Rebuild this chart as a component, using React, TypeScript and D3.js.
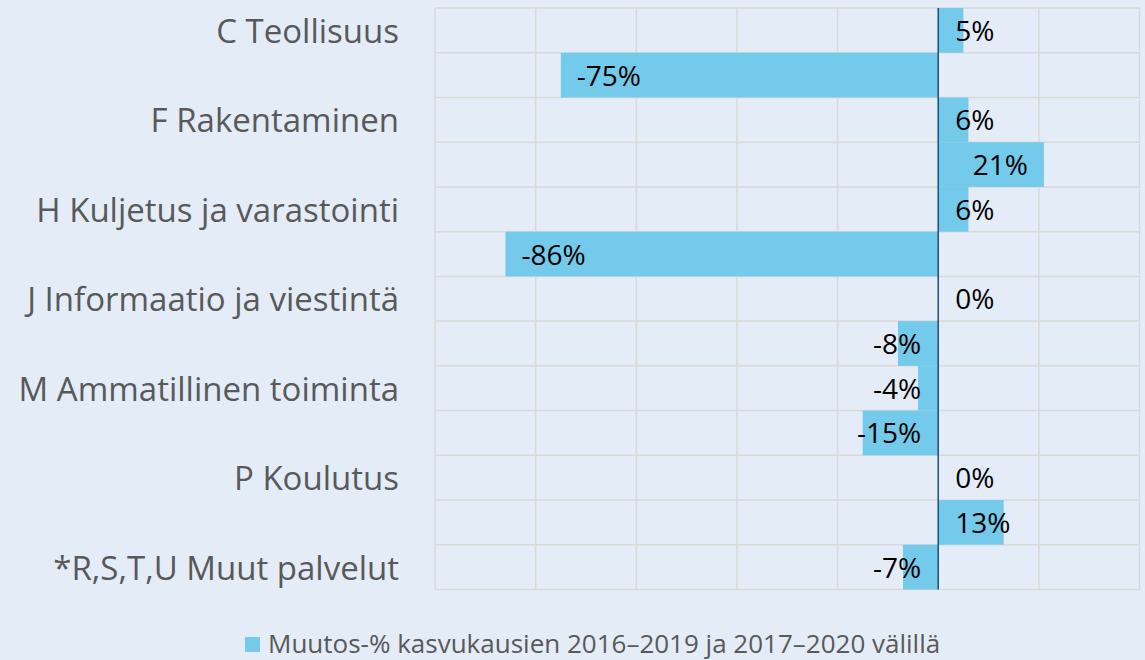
import React from "react";
import * as d3 from "d3";

const categories: string[] = [
  "C Teollisuus",
  "",
  "F Rakentaminen",
  "",
  "H Kuljetus ja varastointi",
  "",
  "J Informaatio ja viestintä",
  "",
  "M Ammatillinen toiminta",
  "",
  "P Koulutus",
  "",
  "*R,S,T,U Muut palvelut",
];
const values: number[] = [5, -75, 6, 21, 6, -86, 0, -8, -4, -15, 0, 13, -7];
const xTicks: number[] = [-100, -80, -60, -40, -20, 0, 20, 40];
const legendLabel = "Muutos-% kasvukausien 2016–2019 ja 2017–2020 välillä";

const W = 1145;
const H = 660;
const FONT = "'Open Sans', 'Noto Sans', sans-serif";

export default function App() {
  const left = 435;
  const right = 1139.5;
  const top = 8;
  const bottom = 589.5;

  const x = d3.scaleLinear().domain([-100, 40]).range([left, right]);
  const y = d3
    .scaleBand<number>()
    .domain(d3.range(categories.length))
    .range([top, bottom])
    .paddingInner(0)
    .paddingOuter(0);

  const x0 = x(0);
  const bw = y.bandwidth();
  const labelFs = 28;
  const charW = labelFs * 0.58;

  return (
    <div style={{ position: "absolute", left: 0, top: 0 }}>
      <svg width={W} height={H} style={{ display: "block" }}>
        <rect x={0} y={0} width={W} height={H} fill="#e4ecf7" />
        {/* vertical grid */}
        {xTicks.map((t) =>
          t === 0 ? null : (
            <line
              key={"vx" + t}
              x1={x(t)}
              x2={x(t)}
              y1={top}
              y2={bottom}
              stroke="#d9d9d9"
              strokeWidth={1.5}
            />
          )
        )}
        {/* horizontal grid */}
        {d3.range(categories.length + 1).map((i) => (
          <line
            key={"hy" + i}
            x1={left}
            x2={right}
            y1={top + i * bw}
            y2={top + i * bw}
            stroke="#d9d9d9"
            strokeWidth={1.5}
          />
        ))}
        {/* bars */}
        {values.map((v, i) => (
          <rect
            key={"b" + i}
            x={Math.min(x(v), x0)}
            y={y(i)!}
            width={Math.abs(x(v) - x0)}
            height={bw}
            fill="#74caeb"
          />
        ))}
        {/* zero axis */}
        <line x1={x0} x2={x0} y1={top} y2={bottom} stroke="#1f4e79" strokeWidth={1.5} />
        {/* category labels */}
        {categories.map((c, i) =>
          c ? (
            <text
              key={"c" + i}
              x={399}
              y={y(i)! + bw / 2 + 12.5}
              textAnchor="end"
              fontFamily={FONT}
              fontSize={33}
              fill="#595959"
            >
              {c}
            </text>
          ) : null
        )}
        {/* data labels */}
        {values.map((v, i) => {
          const label = `${v}%`;
          const estW = label.length * charW;
          const cy = y(i)! + bw / 2 + 10.5;
          let tx: number;
          let anchor: "start" | "end";
          if (v >= 0) {
            const end = x(v) - 16;
            if (end - estW >= x0 + 17) {
              tx = end;
              anchor = "end";
            } else {
              tx = x0 + 17;
              anchor = "start";
            }
          } else {
            const start = x(v) + 16;
            if (start + estW <= x0 - 17) {
              tx = start;
              anchor = "start";
            } else {
              tx = x0 - 17;
              anchor = "end";
            }
          }
          return (
            <text
              key={"d" + i}
              x={tx}
              y={cy}
              textAnchor={anchor}
              fontFamily={FONT}
              fontSize={labelFs}
              fill="#000000"
            >
              {label}
            </text>
          );
        })}
        {/* legend */}
        <rect x={245} y={637} width={15} height={15} fill="#74caeb" />
        <text x={268} y={653} fontFamily={FONT} fontSize={26} fill="#595959">
          {legendLabel}
        </text>
      </svg>
    </div>
  );
}
